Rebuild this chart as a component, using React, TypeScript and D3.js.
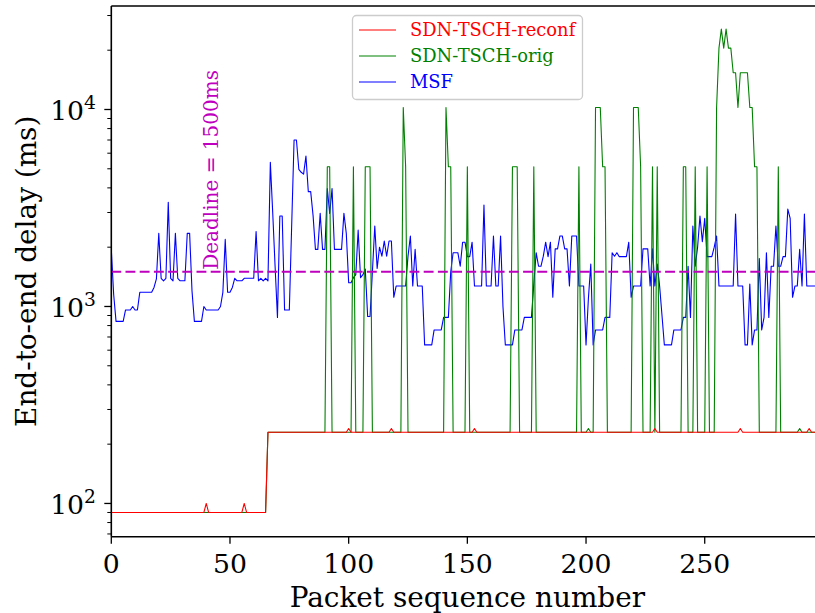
import React from 'react';
import * as d3 from 'd3';

// ---------------- data ----------------
const seriesNames = ['SDN-TSCH-reconf', 'SDN-TSCH-orig', 'MSF'];
const seriesColors = ['#ff0000', '#008000', '#0000ff'];

const xTicks = [0, 50, 100, 150, 200, 250];
const yMajorTicks = [100, 1000, 10000];
const yMajorExp = ['2', '3', '4'];
const yMinorTicks = [70, 80, 90, 200, 300, 400, 500, 600, 700, 800, 900, 2000, 3000, 4000, 5000, 6000, 7000, 8000, 9000, 20000, 30000];
const deadline = 1500;

// SDN-TSCH-reconf delay per packet (ms), packets 0..299
const reconf = [
  90, 90, 90, 90, 90, 90, 90, 90, 90, 90,
  90, 90, 90, 90, 90, 90, 90, 90, 90, 90,
  90, 90, 90, 90, 90, 90, 90, 90, 90, 90,
  90, 90, 90, 90, 90, 90, 90, 90, 90, 90,
  100, 90, 90, 90, 90, 90, 90, 90, 90, 90,
  90, 90, 90, 90, 90, 90, 100, 90, 90, 90,
  90, 90, 90, 90, 90, 90, 230, 230, 230, 230,
  230, 230, 230, 230, 230, 230, 230, 230, 230, 230,
  230, 230, 230, 230, 230, 230, 230, 230, 230, 230,
  230, 230, 230, 230, 230, 230, 230, 230, 230, 230,
  240, 230, 230, 230, 230, 230, 230, 230, 230, 230,
  230, 230, 230, 230, 230, 230, 230, 230, 240, 230,
  230, 230, 230, 230, 230, 230, 230, 230, 230, 230,
  230, 230, 230, 230, 230, 230, 230, 230, 230, 230,
  230, 230, 230, 230, 230, 230, 230, 230, 230, 230,
  230, 230, 230, 240, 230, 230, 230, 230, 230, 230,
  230, 230, 230, 230, 230, 230, 230, 230, 230, 230,
  230, 230, 230, 230, 230, 230, 230, 230, 230, 230,
  230, 230, 230, 230, 230, 230, 230, 230, 230, 230,
  230, 230, 230, 230, 230, 230, 230, 230, 230, 230,
  230, 230, 230, 230, 230, 230, 230, 230, 230, 230,
  230, 230, 230, 230, 230, 230, 230, 230, 230, 230,
  230, 230, 230, 230, 230, 230, 230, 230, 230, 240,
  230, 230, 230, 230, 230, 230, 230, 230, 230, 230,
  230, 230, 230, 230, 230, 230, 230, 230, 230, 230,
  230, 230, 230, 230, 230, 230, 230, 230, 230, 230,
  230, 230, 230, 230, 230, 240, 230, 230, 230, 230,
  230, 230, 230, 230, 230, 230, 230, 230, 230, 230,
  230, 230, 230, 230, 230, 230, 230, 230, 230, 230,
  230, 230, 230, 230, 240, 230, 230, 230, 230, 230,
];

// SDN-TSCH-orig delay per packet (ms), packets 0..299
const orig = [
  90, 90, 90, 90, 90, 90, 90, 90, 90, 90,
  90, 90, 90, 90, 90, 90, 90, 90, 90, 90,
  90, 90, 90, 90, 90, 90, 90, 90, 90, 90,
  90, 90, 90, 90, 90, 90, 90, 90, 90, 90,
  90, 90, 90, 90, 90, 90, 90, 90, 90, 90,
  90, 90, 90, 90, 90, 90, 90, 90, 90, 90,
  90, 90, 90, 90, 90, 90, 230, 230, 230, 230,
  230, 230, 230, 230, 230, 230, 230, 230, 230, 230,
  230, 230, 230, 230, 230, 230, 230, 230, 230, 230,
  230, 5120, 5120, 230, 230, 230, 230, 230, 230, 230,
  230, 230, 5120, 230, 230, 230, 230, 5120, 5120, 5120,
  230, 230, 230, 230, 230, 230, 230, 230, 230, 230,
  230, 230, 230, 10240, 5120, 230, 230, 230, 230, 230,
  230, 230, 230, 230, 230, 230, 230, 230, 230, 230,
  230, 10240, 5120, 5120, 230, 230, 230, 230, 230, 230,
  5120, 230, 230, 230, 230, 230, 230, 230, 230, 230,
  230, 230, 230, 230, 230, 230, 230, 230, 230, 5120,
  5120, 5120, 230, 230, 230, 230, 230, 230, 5120, 230,
  230, 230, 230, 230, 230, 230, 230, 230, 230, 230,
  230, 230, 230, 230, 230, 230, 230, 5120, 230, 230,
  230, 240, 230, 230, 10240, 10240, 10240, 5120, 5120, 230,
  230, 230, 230, 230, 230, 230, 230, 230, 230, 230,
  10240, 10240, 10240, 5120, 230, 230, 230, 230, 5120, 230,
  5120, 230, 230, 230, 230, 230, 230, 230, 230, 230,
  230, 5120, 5120, 230, 230, 230, 5120, 230, 230, 230,
  230, 5120, 230, 230, 230, 10240, 20480, 25600, 20480, 25600,
  20480, 20480, 15360, 15360, 10240, 15360, 15360, 15360, 15360, 10240,
  10240, 5120, 5120, 230, 230, 230, 230, 230, 230, 230,
  230, 5120, 230, 230, 230, 230, 230, 230, 230, 230,
  240, 230, 230, 230, 230, 230, 230, 230, 230, 230,
];

// MSF delay per packet (ms), packets 0..299
const msf = [
  1950, 1150, 840, 840, 840, 840, 960, 960, 960, 1000,
  960, 960, 1180, 1180, 1180, 1180, 1180, 1180, 1250, 1380,
  2350, 1390, 1350, 1390, 3380, 1390, 1350, 2350, 1390, 1350,
  1350, 1350, 2350, 2350, 1200, 840, 840, 840, 840, 1000,
  960, 960, 960, 960, 960, 960, 1000, 1180, 2190, 1180,
  1180, 1250, 1390, 1350, 1350, 1350, 1390, 1390, 1390, 1390,
  1390, 2400, 1350, 1390, 1350, 1390, 1350, 5400, 3000, 1600,
  880, 2880, 2880, 960, 960, 960, 2600, 7000, 7000, 4970,
  4800, 4700, 5800, 3830, 3830, 2900, 1950, 1950, 2970, 1950,
  1950, 3970, 2970, 3970, 1950, 1950, 1950, 1950, 2970, 2350,
  1320, 1320, 1400, 1450, 2440, 1400, 1450, 1550, 890, 890,
  1500, 2560, 1560, 2000, 1800, 2150, 1800, 2150, 2150, 1113,
  1270, 1270, 1270, 1270, 1270, 1800, 2280, 1270, 1950, 1270,
  1270, 1270, 638, 638, 638, 638, 760, 760, 760, 760,
  880, 880, 880, 1500, 1875, 1875, 1875, 1600, 2120, 2120,
  1790, 1790, 2120, 1270, 1270, 1270, 1270, 3270, 1270, 1270,
  1270, 2280, 1270, 1270, 2280, 1000, 638, 638, 638, 638,
  760, 760, 760, 760, 880, 880, 880, 880, 1300, 1875,
  1600, 1600, 1800, 2120, 1790, 2120, 1113, 1960, 1960, 2280,
  2280, 1960, 1960, 1270, 2280, 2280, 2280, 1270, 1270, 1270,
  638, 1100, 1640, 638, 760, 760, 760, 760, 880, 880,
  880, 1875, 1800, 1875, 1790, 1790, 1790, 1790, 2120, 1113,
  1270, 1270, 1270, 1270, 1960, 1960, 1960, 1270, 1960, 1270,
  1640, 1270, 900, 638, 638, 638, 638, 760, 760, 760,
  760, 880, 880, 1600, 880, 2560, 1600, 2000, 2880, 2130,
  2800, 1790, 1790, 1790, 2000, 2280, 1270, 1270, 1270, 1270,
  1270, 1270, 1270, 2950, 1270, 1270, 1270, 638, 638, 1300,
  638, 760, 760, 1750, 760, 880, 1875, 880, 1600, 1600,
  2560, 1600, 1600, 1790, 1790, 3120, 2800, 1113, 1270, 1270,
  1950, 1270, 2950, 1270, 1270, 1270, 1270, 1270, 1400, 1400,
];

// ---------------- layout ----------------
const W = 815;
const H = 613;
const PL = 111.3;
const PR = 823.4;
const PT = 6;
const PB = 536.7;
const FONT = '"DejaVu Serif", serif';

export default function App() {
  const x = d3.scaleLinear().domain([0, 300]).range([PL, PR]);
  const y = d3.scaleLog().domain([67.8, 33530]).range([PB, PT]);

  const line = d3
    .line<number>()
    .x((_, i) => x(i))
    .y((d) => y(d));

  const series = [reconf, orig, msf];
  const drawOrder = [2, 1, 0];

  const legendRows = [30, 56, 82];

  return (
    <svg
      width={W}
      height={H}
      style={{ position: 'absolute', left: 0, top: 0, background: '#fff' }}
      fontFamily={FONT}
    >
      <rect x={0} y={0} width={W} height={H} fill="#fff" />
      <defs>
        <clipPath id="plotclip">
          <rect x={PL} y={PT} width={PR - PL} height={PB - PT} />
        </clipPath>
      </defs>

      <g clipPath="url(#plotclip)">
        {drawOrder.map((k) => (
          <path
            key={k}
            d={line(series[k]) || ''}
            fill="none"
            stroke={seriesColors[k]}
            strokeWidth={1.1}
            strokeLinejoin="round"
          />
        ))}
        <line
          x1={PL}
          x2={PR}
          y1={y(deadline)}
          y2={y(deadline)}
          stroke="#bf00bf"
          strokeWidth={2}
          strokeDasharray="9.9,4.3"
        />
      </g>

      {/* Deadline label */}
      <text
        transform={`translate(${x(42)},${y(deadline) - 2}) rotate(-90)`}
        fill="#bf00bf"
        fontSize={20}
        textAnchor="start"
        dominantBaseline="central"
      >
        Deadline = 1500ms
      </text>

      {/* spines */}
      <line x1={PL} x2={PR} y1={PT} y2={PT} stroke="#000" strokeWidth={1.6} />
      <line x1={PL} x2={PR} y1={PB} y2={PB} stroke="#000" strokeWidth={1.6} />
      <line x1={PR} x2={PR} y1={PT} y2={PB} stroke="#000" strokeWidth={1.6} />
      <line x1={PL} x2={PL} y1={PT} y2={PB} stroke="#000" strokeWidth={1.6} />

      {/* x ticks */}
      {xTicks.map((t) => (
        <g key={t}>
          <line x1={x(t)} x2={x(t)} y1={PB} y2={PB + 7} stroke="#000" strokeWidth={1.3} />
          <text x={x(t)} y={573} fontSize={26.7} textAnchor="middle" fill="#000">
            {t}
          </text>
        </g>
      ))}

      {/* y ticks */}
      {yMinorTicks.map((t) => (
        <line key={t} x1={PL - 4} x2={PL} y1={y(t)} y2={y(t)} stroke="#000" strokeWidth={1} />
      ))}
      {yMajorTicks.map((t, i) => (
        <g key={t}>
          <line x1={PL - 7} x2={PL} y1={y(t)} y2={y(t)} stroke="#000" strokeWidth={1.3} />
          <text x={96} y={y(t) + 11} fontSize={26.7} textAnchor="end" fill="#000">
            <tspan>10</tspan>
            <tspan dy={-11} fontSize={18.7}>
              {yMajorExp[i]}
            </tspan>
          </text>
        </g>
      ))}

      {/* axis labels */}
      <text x={(PL + PR) / 2} y={606.5} fontSize={27.9} textAnchor="middle" fill="#000">
        Packet sequence number
      </text>
      <text
        transform={`translate(36,${(PT + PB) / 2}) rotate(-90)`}
        fontSize={27.9}
        textAnchor="middle"
        fill="#000"
      >
        End-to-end delay (ms)
      </text>

      {/* legend */}
      <rect x={352.5} y={15.5} width={230} height={84} rx={4} fill="#fff" fillOpacity={0.8} stroke="#cccccc" strokeWidth={1.3} />
      {seriesNames.map((name, i) => (
        <g key={name}>
          <line x1={359} x2={396} y1={legendRows[i]} y2={legendRows[i]} stroke={seriesColors[i]} strokeWidth={1.1} />
          <text x={410} y={legendRows[i] + 6} fontSize={17.9} fill={seriesColors[i]}>
            {name}
          </text>
        </g>
      ))}
    </svg>
  );
}
